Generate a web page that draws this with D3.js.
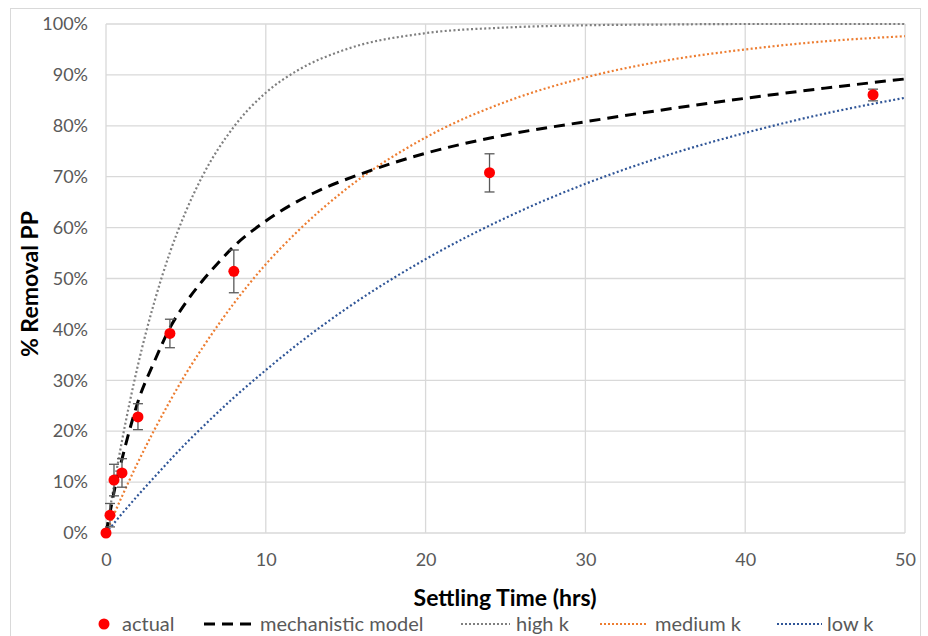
<!DOCTYPE html>
<html>
<head>
<meta charset="utf-8">
<script src="https://cdn.jsdelivr.net/npm/d3@7"></script>
<style>
  body { margin: 0; background: #fff; }
  text { font-family: Lato, "Open Sans", sans-serif; }
</style>
</head>
<body>
<svg width="928" height="636"></svg>
<script>
// measured points (hours, % removal) with error bar ends
var actualT = [0, 0.25, 0.5, 1, 2, 4, 8, 24, 48];
var actualVal = [0, 3.5, 10.4, 11.8, 22.8, 39.2, 51.4, 70.8, 86.1];
var actualHi = [0, 5.8, 13.5, 14.6, 25.4, 42.0, 55.6, 74.5, 87.2];
var actualLo = [0, 1.2, 7.3, 9.0, 20.3, 36.4, 47.2, 67.0, 84.9];

// model curves
var modelT = [0, 0.25, 0.5, 1, 1.5, 2, 3, 4, 5, 6, 7, 8, 10, 13, 16, 20, 25, 30, 35, 40, 45, 50];
var mechanistic = [0, 4, 8, 14.5, 20.5, 25.8, 33.5, 40.3, 45.3, 49.4, 53.0, 56.3, 61.3, 66.8, 70.6, 74.6, 78.2, 80.8, 83.2, 85.4, 87.4, 89.2];

var kT = [0, 1, 2, 3, 4, 5, 6, 8, 10, 12, 15, 20, 25, 30, 35, 40, 45, 50];
var highK = [0, 18.1, 33.0, 45.1, 55.1, 63.2, 69.9, 79.8, 86.5, 90.9, 95.0, 98.2, 99.3, 99.75, 99.9, 100, 100, 100];
var mediumK = [0, 7.2, 13.9, 20.1, 25.9, 31.3, 36.2, 45.1, 52.8, 59.3, 67.5, 77.7, 84.7, 89.5, 92.8, 95.0, 96.6, 97.6];
var lowK = [0, 3.8, 7.4, 10.9, 14.3, 17.6, 20.7, 26.6, 32.0, 37.1, 44.0, 53.8, 61.9, 68.6, 74.1, 78.6, 82.4, 85.5];

var xTicks = [0, 10, 20, 30, 40, 50];
var yTicks = [0, 10, 20, 30, 40, 50, 60, 70, 80, 90, 100];

var margin = { top: 24, right: 23, bottom: 103, left: 106 },
    width = 928 - margin.left - margin.right,
    height = 636 - margin.top - margin.bottom;

var root = d3.select("svg");

// outer chart border
root.append("rect")
    .attr("x", 10.5).attr("y", 8.5)
    .attr("width", 910).attr("height", 640)
    .attr("fill", "none")
    .attr("stroke", "#d9d9d9");

var svg = root.append("g")
    .attr("transform", "translate(" + margin.left + "," + margin.top + ")");

var x = d3.scaleLinear().domain([0, 50]).range([0, width]);
var y = d3.scaleLinear().domain([0, 100]).range([height, 0]);

// gridlines
svg.append("g")
    .selectAll("line.h")
    .data(yTicks)
    .enter().append("line")
    .attr("x1", 0).attr("x2", width)
    .attr("y1", function (d) { return y(d); })
    .attr("y2", function (d) { return y(d); })
    .attr("stroke", "#d9d9d9").attr("stroke-width", 1.3);

svg.append("g")
    .selectAll("line.v")
    .data(xTicks)
    .enter().append("line")
    .attr("y1", 0).attr("y2", height)
    .attr("x1", function (d) { return x(d); })
    .attr("x2", function (d) { return x(d); })
    .attr("stroke", "#d9d9d9").attr("stroke-width", 1.3);

// axes (labels only, lines come from grid)
var yAxis = svg.append("g")
    .call(d3.axisLeft(y).tickValues(yTicks).tickSize(0).tickPadding(18)
        .tickFormat(function (d) { return d + "%"; }));
yAxis.select(".domain").remove();
yAxis.selectAll("text")
    .style("font-family", "Lato, sans-serif")
    .style("font-size", "18px")
    .attr("fill", "#595959");

var xAxis = svg.append("g")
    .attr("transform", "translate(0," + height + ")")
    .call(d3.axisBottom(x).tickValues(xTicks).tickSize(0).tickPadding(20));
xAxis.select(".domain").remove();
xAxis.selectAll("text")
    .style("font-family", "Lato, sans-serif")
    .style("font-size", "18px")
    .attr("fill", "#595959");

// axis titles
root.append("text")
    .attr("x", 505).attr("y", 606)
    .attr("text-anchor", "middle")
    .style("font-size", "23px").style("font-weight", "bold")
    .attr("fill", "#000")
    .text("Settling Time (hrs)");

root.append("text")
    .attr("transform", "translate(38,284)rotate(-90)")
    .attr("text-anchor", "middle")
    .style("font-size", "23px").style("font-weight", "bold")
    .attr("fill", "#000")
    .text("% Removal PP");

var line = d3.line()
    .x(function (d) { return x(d[0]); })
    .y(function (d) { return y(d[1]); })
    .curve(d3.curveMonotoneX);

var dotted = [
    { vals: lowK, color: "#2f5597" },
    { vals: mediumK, color: "#ed7d31" },
    { vals: highK, color: "#7f7f7f" }
];

dotted.forEach(function (s) {
    svg.append("path")
        .datum(kT.map(function (t, i) { return [t, s.vals[i]]; }))
        .attr("d", line)
        .attr("fill", "none")
        .attr("stroke", s.color)
        .attr("stroke-width", 2.2)
        .attr("stroke-dasharray", "2,2.4");
});

svg.append("path")
    .datum(modelT.map(function (t, i) { return [t, mechanistic[i]]; }))
    .attr("d", line)
    .attr("fill", "none")
    .attr("stroke", "#000")
    .attr("stroke-width", 3)
    .attr("stroke-dasharray", "11,7");

// error bars
var pts = actualT.map(function (t, i) {
    return { t: t, v: actualVal[i], hi: actualHi[i], lo: actualLo[i] };
});

var eb = svg.append("g").selectAll("g")
    .data(pts.filter(function (d) { return d.hi > d.lo; }))
    .enter().append("g")
    .attr("stroke", "#595959").attr("stroke-width", 1.3);

eb.append("line")
    .attr("x1", function (d) { return x(d.t); })
    .attr("x2", function (d) { return x(d.t); })
    .attr("y1", function (d) { return y(d.hi); })
    .attr("y2", function (d) { return y(d.lo); });
eb.append("line")
    .attr("x1", function (d) { return x(d.t) - 5; })
    .attr("x2", function (d) { return x(d.t) + 5; })
    .attr("y1", function (d) { return y(d.hi); })
    .attr("y2", function (d) { return y(d.hi); });
eb.append("line")
    .attr("x1", function (d) { return x(d.t) - 5; })
    .attr("x2", function (d) { return x(d.t) + 5; })
    .attr("y1", function (d) { return y(d.lo); })
    .attr("y2", function (d) { return y(d.lo); });

svg.append("g").selectAll("circle")
    .data(pts)
    .enter().append("circle")
    .attr("cx", function (d) { return x(d.t); })
    .attr("cy", function (d) { return y(d.v); })
    .attr("r", 5.5)
    .attr("fill", "#ff0000");

// legend
var legend = root.append("g").attr("transform", "translate(0,624)");
legend.append("circle").attr("cx", 104).attr("cy", 0).attr("r", 5.5).attr("fill", "#ff0000");

var legendItems = [
    { x1: 204, x2: 257, tx: 260, label: "mechanistic model", color: "#000", w: 3, dash: "11,7" },
    { x1: 461, x2: 510, tx: 516, label: "high k", color: "#7f7f7f", w: 2, dash: "2,2" },
    { x1: 600, x2: 648, tx: 655, label: "medium k", color: "#ed7d31", w: 2, dash: "2,2" },
    { x1: 777, x2: 822, tx: 827, label: "low k", color: "#2f5597", w: 2, dash: "2,2" }
];

legendItems.forEach(function (d) {
    legend.append("line")
        .attr("x1", d.x1).attr("x2", d.x2).attr("y1", 0).attr("y2", 0)
        .attr("stroke", d.color).attr("stroke-width", d.w)
        .attr("stroke-dasharray", d.dash);
    legend.append("text")
        .attr("x", d.tx).attr("y", 7)
        .style("font-size", "20px").attr("fill", "#595959")
        .text(d.label);
});
legend.append("text")
    .attr("x", 122).attr("y", 7)
    .style("font-size", "20px").attr("fill", "#595959")
    .text("actual");
</script>
</body>
</html>
